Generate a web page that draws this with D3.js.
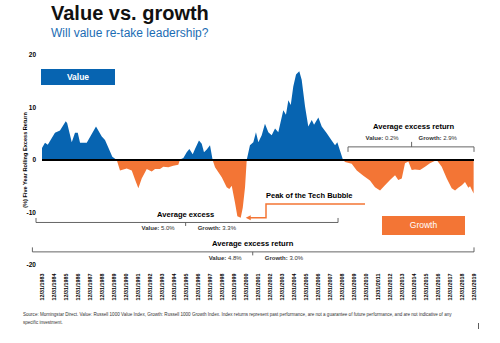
<!DOCTYPE html>
<html>
<head>
<meta charset="utf-8">
<script src="https://cdn.jsdelivr.net/npm/d3@7"></script>
<style>
  body { margin: 0; background: #fff; }
  svg { display: block; font-family: Arial, "Liberation Sans", sans-serif; }
</style>
</head>
<body>
<div id="chart"></div>
<script>
'use strict';

// five year rolling excess return (value minus growth)
const years = [
  1984.0, 1984.25, 1984.48, 1985.08, 1985.5, 1985.98, 1986.1, 1986.48, 1986.75, 1986.98,
  1987.17, 1987.73, 1988.5, 1988.98, 1989.25, 1989.48, 1989.86, 1990.23, 1990.5, 1991.06,
  1991.48, 1991.75, 1992.03, 1992.31, 1992.73, 1993.14, 1993.42, 1993.83, 1994.11, 1994.53,
  1994.94, 1995.36, 1995.5, 1995.78, 1996.06, 1996.28, 1996.56, 1996.75, 1997.08, 1997.31,
  1997.5, 1997.73, 1998.0, 1998.22, 1998.42, 1998.98, 1999.39, 1999.61, 1999.81, 2000.08,
  2000.28, 2000.56, 2000.73, 2000.92, 2001.06, 2001.33, 2001.61, 2001.83, 2002.03, 2002.31,
  2002.58, 2002.86, 2003.14, 2003.42, 2003.69, 2004.11, 2004.33, 2004.53, 2004.73, 2004.94,
  2005.17, 2005.44, 2005.64, 2005.92, 2006.19, 2006.48, 2006.67, 2007.03, 2007.31, 2007.73,
  2008.14, 2008.42, 2008.61, 2008.83, 2009.06, 2009.25, 2009.81, 2010.23, 2010.78, 2011.33,
  2011.75, 2012.17, 2012.58, 2013.0, 2013.42, 2013.69, 2013.98, 2014.25, 2014.53, 2014.81,
  2015.08, 2015.5, 2015.92, 2016.33, 2016.89, 2017.31, 2017.73, 2018.14, 2018.42, 2018.69,
  2018.98, 2019.25, 2019.53, 2019.67, 2019.97
];
const excess = [
  2.3, 3.3, 2.9, 5.2, 5.6, 7.4, 7.0, 3.4, 5.2, 5.2,
  3.3, 3.3, 6.4, 4.5, 3.8, 2.6, 0.6, 0.0, -2.0, -1.6,
  -2.0, -3.7, -5.4, -3.5, -1.7, -2.2, -1.7, -1.7, -1.3, -1.4,
  -1.1, -0.9, 0.1, 0.4, 1.5, 2.1, 1.1, 2.1, 3.7, 3.1,
  1.5, 2.0, 2.8, 0.0, -1.4, -3.3, -5.2, -5.5, -4.9, -8.1,
  -10.7, -11.0, -9.1, -5.2, 0.0, 2.8, 3.4, 5.3, 3.4, 4.7,
  6.9, 5.3, 4.7, 6.0, 5.3, 9.5, 8.6, 11.4, 10.5, 14.0,
  16.3, 16.9, 15.3, 10.2, 6.4, 7.6, 6.7, 8.1, 6.4, 5.1,
  3.7, 2.8, 3.4, 1.8, 0.2, -0.4, -0.7, -2.0, -3.0, -3.9,
  -5.2, -5.8, -4.8, -3.8, -2.9, -3.8, -3.5, -0.6, -0.3, -1.9,
  -1.8, -1.9, -1.3, -0.6, 0.0, -1.3, -3.5, -5.4, -5.8, -5.3,
  -4.8, -4.2, -5.3, -5.0, -6.4
];

const yTicks = [20, 10, 0, -10, -20];
const tickYears = d3.range(1983, 2020);   // labels 12/31/1983 .. 12/31/2019

// average excess return brackets
const bracketLabels = ['Average excess', 'Average excess return', 'Average excess return'];
const bracketFrom   = [1983.5, 1983.2, 2009.5];
const bracketTo     = [2008.67, 2020.0, 2020.0];
const bracketMid    = [1995.97, 2001.56, 2014.8];
const bracketLevel  = [-11.9, -17.5, 2.5];
const valueAvg      = ['5.0%', '4.8%', '0.2%'];
const growthAvg     = ['3.3%', '3.0%', '2.9%'];

const W = 500, H = 343;
const blue = '#0764b1', orange = '#f37535';

const svg = d3.select('#chart').append('svg')
  .attr('width', W).attr('height', H);

const x = d3.scaleLinear().domain([1984, 2020]).range([42, 474]);
const y = d3.scaleLinear().domain([-20, 20]).range([265, 55]);

const data = years.map((t, i) => ({t: t, v: excess[i]}));

// title
svg.append('text')
  .attr('x', 51).attr('y', 20)
  .style('font-size', '20px').style('font-weight', 'bold')
  .style('fill', '#111')
  .text('Value vs. growth');
svg.append('text')
  .attr('x', 51).attr('y', 36.5)
  .style('font-size', '12px')
  .style('fill', '#1b6db4')
  .text('Will value re-take leadership?');

// clip above / below zero
const defs = svg.append('defs');
defs.append('clipPath').attr('id', 'above')
  .append('rect')
  .attr('x', 0).attr('y', 0)
  .attr('width', W).attr('height', y(0));
defs.append('clipPath').attr('id', 'below')
  .append('rect')
  .attr('x', 0).attr('y', y(0))
  .attr('width', W).attr('height', H - y(0));

const area = d3.area()
  .x(d => x(d.t))
  .y0(y(0))
  .y1(d => y(d.v));

svg.append('path')
  .datum(data)
  .attr('clip-path', 'url(#above)')
  .attr('d', area)
  .style('fill', blue);
svg.append('path')
  .datum(data)
  .attr('clip-path', 'url(#below)')
  .attr('d', area)
  .style('fill', orange);

// zero line
svg.append('line')
  .attr('x1', x(1984)).attr('x2', x(2020))
  .attr('y1', y(0)).attr('y2', y(0))
  .style('stroke', '#000').style('stroke-width', 2);

// y tick labels
svg.append('g').selectAll('text')
  .data(yTicks)
  .enter()
  .append('text')
  .attr('x', 36)
  .attr('y', d => y(d))
  .attr('dy', '0.35em')
  .attr('text-anchor', 'end')
  .style('font-size', '6.5px').style('font-weight', 'bold')
  .text(d => d);

svg.append('text')
  .attr('transform', `translate(25,${y(0)}) rotate(-90)`)
  .attr('text-anchor', 'middle')
  .attr('dy', '0.35em')
  .style('font-size', '5.6px').style('font-weight', 'bold')
  .text('(%) Five Year Rolling Excess Return');

// x tick labels
svg.append('g').selectAll('text')
  .data(tickYears)
  .enter()
  .append('text')
  .attr('transform', d => `translate(${x(d + 1)},273.5) rotate(-90)`)
  .attr('text-anchor', 'end')
  .attr('dy', '0.35em')
  .style('font-size', '5.4px').style('font-weight', 'bold')
  .text(d => '12/31/' + d);

// legend boxes
const valueBox = svg.append('g').attr('transform', 'translate(41,69)');
valueBox.append('rect').attr('width', 74).attr('height', 16).style('fill', blue);
valueBox.append('text')
  .attr('x', 37).attr('y', 8).attr('dy', '0.35em')
  .attr('text-anchor', 'middle')
  .style('font-size', '8.5px').style('font-weight', 'bold').style('fill', '#fff')
  .text('Value');

const growthBox = svg.append('g').attr('transform', 'translate(382,216)');
growthBox.append('rect').attr('width', 83).attr('height', 19).style('fill', orange);
growthBox.append('text')
  .attr('x', 41.5).attr('y', 9.5).attr('dy', '0.35em')
  .attr('text-anchor', 'middle')
  .style('font-size', '8.5px').style('fill', '#fff')
  .text('Growth');

// tech bubble callout
const peak = data[d3.minIndex(data, d => d.v)];
svg.append('text')
  .attr('x', 266).attr('y', 198)
  .style('font-size', '7.5px').style('font-weight', 'bold')
  .text('Peak of the Tech Bubble');
svg.append('path')
  .attr('d', `M365,204 H266 V${y(peak.v)} H${x(peak.t) + 9}`)
  .style('fill', 'none').style('stroke', orange).style('stroke-width', 1.5);
svg.append('path')
  .attr('d', `M${x(peak.t) + 5},${y(peak.v)} l5,-2.5 v5 z`)
  .style('fill', orange);

// brackets
bracketLabels.forEach((label, i) => {
  const g = svg.append('g');
  const ly = y(bracketLevel[i]);
  const up = bracketLevel[i] < 0;        // below zero: ends point up, labels around
  const endDir = up ? -4.5 : 5;
  const midDir = up ? 3.5 : -5;
  g.append('path')
    .attr('d', `M${x(bracketFrom[i])},${ly + endDir} V${ly} H${x(bracketTo[i])} V${ly + endDir}` +
               `M${x(bracketMid[i])},${ly} V${ly + midDir}`)
    .style('fill', 'none').style('stroke', '#555').style('stroke-width', 0.9);

  const cx = up ? x(bracketMid[i]) : (x(bracketFrom[i]) + x(bracketTo[i])) / 2;
  g.append('text')
    .attr('x', up ? cx : x(bracketMid[i]) + 2)
    .attr('y', up ? ly - 5.5 : ly - 17.5)
    .attr('text-anchor', 'middle')
    .style('font-size', '7.6px').style('font-weight', 'bold')
    .text(label);

  const sy = up ? ly + 8 : ly - 6.5;
  const vt = g.append('text')
    .attr('x', x(bracketMid[i]) - (up ? 11 : 13))
    .attr('y', sy)
    .attr('text-anchor', 'end')
    .style('font-size', '6px').style('fill', '#333');
  vt.append('tspan').style('font-weight', 'bold').text('Value: ');
  vt.append('tspan').text(valueAvg[i]);
  const gt = g.append('text')
    .attr('x', x(bracketMid[i]) + (up ? 12 : 7))
    .attr('y', sy)
    .style('font-size', '6px').style('fill', '#333');
  gt.append('tspan').style('font-weight', 'bold').text('Growth: ');
  gt.append('tspan').text(growthAvg[i]);
});

// source note
const note = svg.append('text')
  .attr('x', 23).attr('y', 316)
  .style('font-size', '4.55px').style('fill', '#333');
note.append('tspan')
  .text('Source: Morningstar Direct. Value: Russell 1000 Value Index, Growth: Russell 1000 Growth Index. Index returns represent past performance, are not a guarantee of future performance, and are not indicative of any');
note.append('tspan')
  .attr('x', 23).attr('dy', 7.5)
  .text('specific investment.');

svg.append('line')
  .attr('x1', 478.5).attr('x2', 478.5)
  .attr('y1', 323).attr('y2', 329)
  .style('stroke', '#333').style('stroke-width', 0.8);
</script>
</body>
</html>
